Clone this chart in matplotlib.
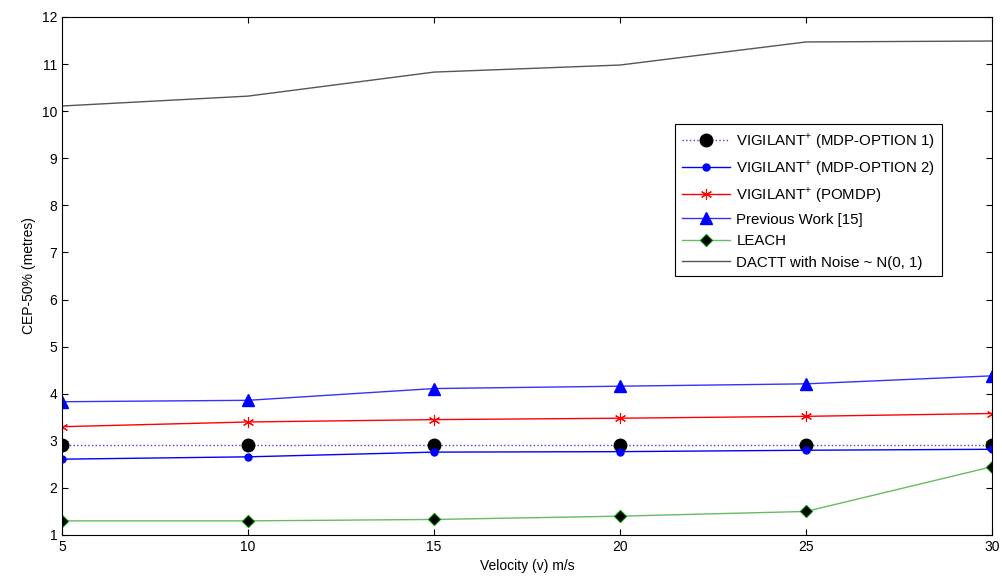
import matplotlib
matplotlib.use("Agg")
import matplotlib.pyplot as plt

plt.rcParams['font.family'] = ['Liberation Sans', 'DejaVu Sans']
plt.rcParams['mathtext.fontset'] = 'custom'
plt.rcParams['mathtext.rm'] = 'Liberation Sans'

velocity = [5, 10, 15, 20, 25, 30]
mdp_option1 = [2.91, 2.91, 2.91, 2.91, 2.91, 2.91]
mdp_option2 = [2.61, 2.66, 2.76, 2.77, 2.80, 2.82]
pomdp = [3.30, 3.40, 3.45, 3.48, 3.52, 3.58]
previous_work = [3.83, 3.86, 4.11, 4.16, 4.21, 4.38]
leach = [1.30, 1.30, 1.33, 1.40, 1.50, 2.45]
dactt = [10.11, 10.32, 10.83, 10.98, 11.47, 11.49]

labels = [
    'VIGILANT$^{+}$ (MDP-OPTION 1)',
    'VIGILANT$^{+}$ (MDP-OPTION 2)',
    'VIGILANT$^{+}$ (POMDP)',
    'Previous Work [15]',
    'LEACH',
    'DACTT with Noise ~ N(0, 1)',
]

fig = plt.figure(figsize=(10.02, 5.8), dpi=100)
ax = fig.add_axes([62/1002, 1-535/580, 930/1002, 518/580])

ax.plot(velocity, mdp_option1, color='#4040ff', linestyle=':', linewidth=1.0,
        marker='o', markersize=9, markerfacecolor='black', markeredgecolor='black', label=labels[0])
ax.plot(velocity, mdp_option2, color='blue', linestyle='-', linewidth=1.0,
        marker='o', markersize=5, markerfacecolor='blue', markeredgecolor='blue', label=labels[1])
ax.plot(velocity, pomdp, color='red', linestyle='-', linewidth=1.0,
        marker=(6, 2, 0), markersize=8, markerfacecolor='none', markeredgecolor='red', markeredgewidth=0.8, label=labels[2])
ax.plot(velocity, previous_work, color='#3333ff', linestyle='-', linewidth=1.0,
        marker='^', markersize=9, markerfacecolor='blue', markeredgecolor='blue', label=labels[3])
ax.plot(velocity, leach, color='#66bb66', linestyle='-', linewidth=1.0,
        marker='D', markersize=6, markerfacecolor='black', markeredgecolor='green', markeredgewidth=0.8, label=labels[4])
ax.plot(velocity, dactt, color='#555555', linestyle='-', linewidth=1.0, label=labels[5])

ax.set_xlim(5, 30)
ax.set_ylim(1, 12)
ax.set_xticks(velocity)
ax.set_yticks(range(1, 13))
ax.tick_params(direction='in', top=True, right=True, labelsize=10, length=4, width=0.8)
for s in ax.spines.values():
    s.set_linewidth(0.8)

ax.set_xlabel('Velocity (v) m/s', fontsize=10)
ax.set_ylabel('CEP-50% (metres)', fontsize=10)

leg = ax.legend(loc='upper left', bbox_to_anchor=(0.659, 0.793), fontsize=10.8,
                frameon=True, fancybox=False, edgecolor='black', framealpha=1,
                handlelength=3.2, handletextpad=0.45, borderpad=0.45, borderaxespad=0,
                labelspacing=0.5)
leg.get_frame().set_linewidth(0.8)

fig.savefig('out.png', dpi=100)
